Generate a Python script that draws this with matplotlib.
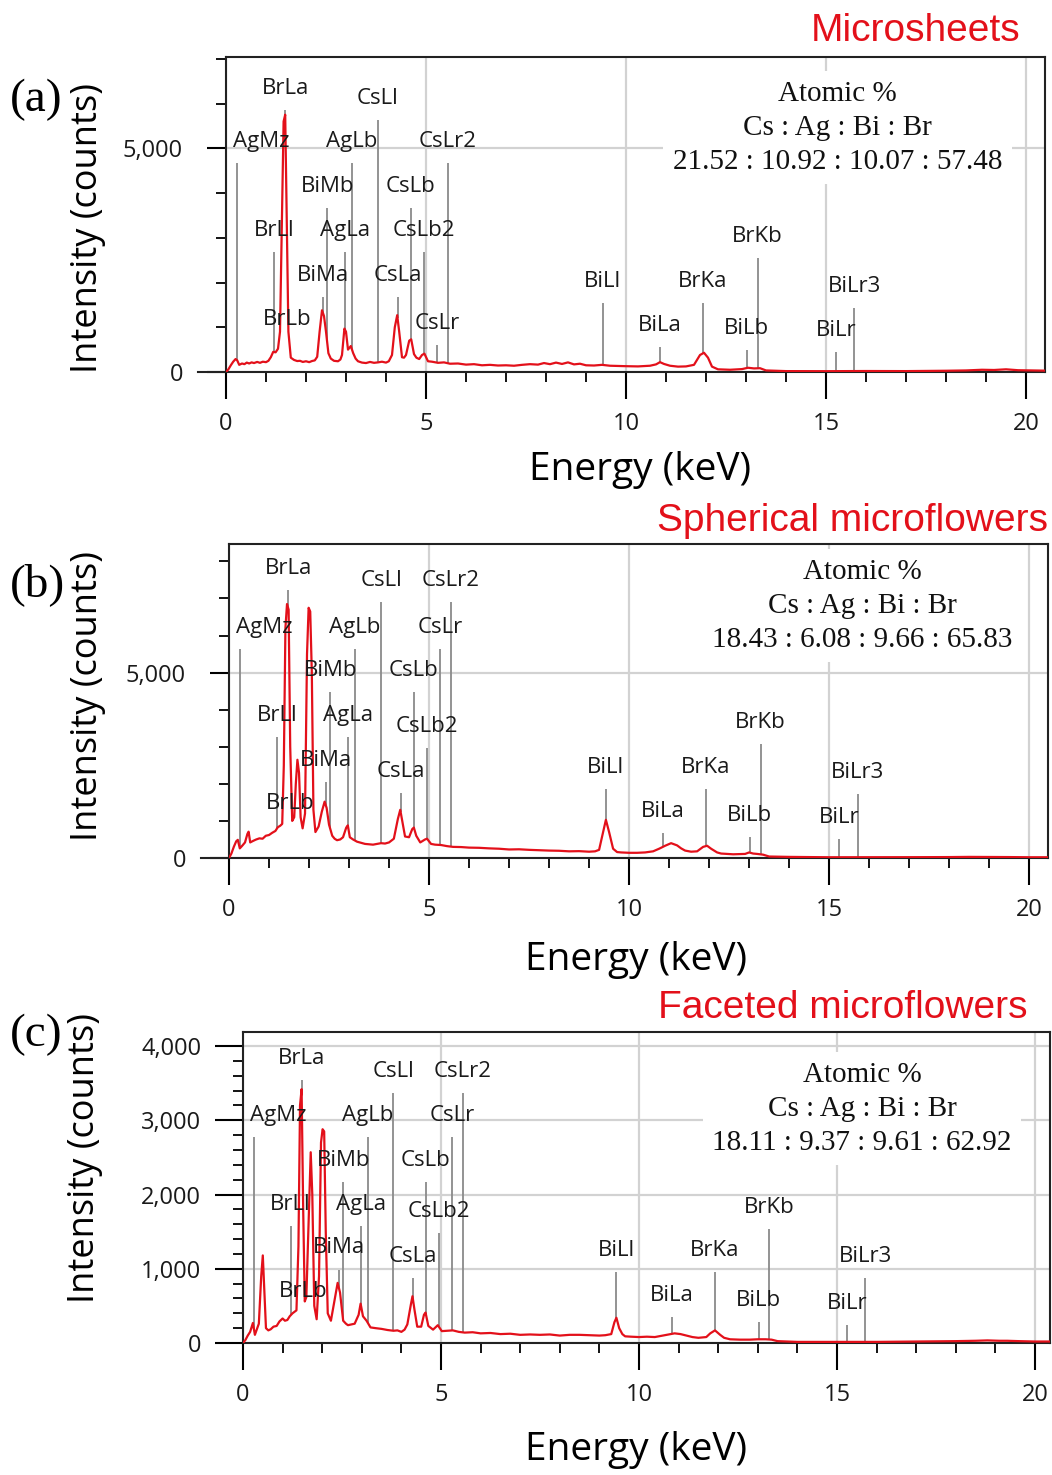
import numpy as np
import matplotlib
matplotlib.use("Agg")
import matplotlib.pyplot as plt
from matplotlib.ticker import MultipleLocator, FuncFormatter

# ---------------- data ----------------
line_names = ["AgMz", "BrLl", "BrLa", "BrLb", "BiMa", "BiMb", "AgLa", "AgLb",
              "CsLl", "CsLa", "CsLb", "CsLb2", "CsLr", "CsLr2", "BiLl", "BiLa",
              "BrKa", "BiLb", "BrKb", "BiLr", "BiLr3"]
line_energy = [0.28, 1.20, 1.48, 1.53, 2.42, 2.53, 2.98, 3.15,
               3.80, 4.29, 4.62, 4.94, 5.28, 5.55, 9.42, 10.84,
               11.92, 13.02, 13.29, 15.25, 15.71]

levels_a = [4665, 2680, 5848, 690, 1674, 3660, 2680, 4665,
            5625, 1674, 3660, 2680, 600, 4665, 1540, 560,
            1540, 490, 2545, 446, 1430]
levels_b = [5650, 3270, 7216, 890, 2054, 4486, 3270, 5650,
            6892, 1757, 4486, 2973, 5650, 6892, 1865, 676,
            1865, 568, 3081, 514, 1730]
levels_c = [2775, 1577, 3543, 400, 990, 2165, 1577, 2775,
            3363, 880, 2165, 1478, 2775, 3363, 950, 350,
            950, 285, 1532, 245, 880]

energy_a = [0.00, 0.06, 0.12, 0.18, 0.24, 0.28, 0.33, 0.40, 0.46, 0.52, 0.58, 0.64,
            0.70, 0.78, 0.85, 0.92, 1.00, 1.06, 1.12, 1.18, 1.24, 1.30, 1.35, 1.40,
            1.44, 1.48, 1.52, 1.56, 1.62, 1.70, 1.78, 1.85, 1.92, 2.00, 2.08, 2.15,
            2.22, 2.28, 2.34, 2.40, 2.45, 2.50, 2.56, 2.62, 2.70, 2.80, 2.86, 2.90,
            2.96, 3.00, 3.05, 3.12, 3.18, 3.24, 3.30, 3.40, 3.50, 3.60, 3.70, 3.80,
            3.90, 4.00, 4.07, 4.15, 4.22, 4.28, 4.33, 4.40, 4.45, 4.50, 4.58, 4.63,
            4.70, 4.76, 4.83, 4.90, 4.96, 5.05, 5.15, 5.30, 5.45, 5.60, 5.80, 6.00,
            6.20, 6.40, 6.60, 6.80, 7.00, 7.20, 7.40, 7.60, 7.80, 7.95, 8.10, 8.25,
            8.40, 8.55, 8.70, 8.85, 9.00, 9.20, 9.40, 9.60, 9.80, 10.0, 10.3, 10.6,
            10.75, 10.85, 10.95, 11.1, 11.3, 11.5, 11.7, 11.85, 11.95, 12.05, 12.15, 12.3,
            12.6, 12.9, 13.05, 13.2, 13.35, 13.5, 14.0, 15.0, 16.0, 17.0, 18.0, 18.5,
            18.9, 19.2, 19.5, 19.8, 20.1, 20.5]
counts_a = [0, 60, 150, 230, 290, 260, 160, 190, 175, 210, 190, 215,
            200, 225, 205, 230, 220, 250, 330, 450, 440, 520, 900, 3500,
            5600, 5750, 3400, 900, 320, 270, 245, 250, 225, 240, 220, 245,
            260, 340, 900, 1380, 1250, 900, 420, 300, 250, 240, 280, 380,
            970, 900, 500, 580, 420, 300, 240, 210, 200, 225, 205, 215,
            230, 210, 240, 380, 1000, 1270, 900, 330, 320, 380, 700, 730,
            400, 320, 290, 380, 410, 240, 230, 205, 215, 185, 190, 165,
            175, 150, 160, 145, 150, 140, 160, 175, 165, 200, 175, 210,
            180, 215, 170, 185, 150, 145, 160, 140, 135, 130, 125, 140,
            170, 220, 180, 140, 120, 125, 160, 380, 430, 320, 120, 60,
            50, 65, 95, 80, 85, 35, 20, 18, 22, 20, 28, 35,
            50, 45, 60, 40, 35, 30]

energy_b = [0.00, 0.06, 0.12, 0.18, 0.22, 0.27, 0.33, 0.40, 0.46, 0.49, 0.53, 0.60,
            0.68, 0.76, 0.84, 0.92, 1.00, 1.08, 1.16, 1.22, 1.28, 1.33, 1.37, 1.41,
            1.45, 1.49, 1.53, 1.58, 1.63, 1.67, 1.71, 1.75, 1.79, 1.84, 1.90, 1.95,
            1.99, 2.03, 2.07, 2.11, 2.16, 2.24, 2.32, 2.39, 2.44, 2.50, 2.58, 2.64,
            2.70, 2.78, 2.85, 2.93, 2.97, 3.02, 3.10, 3.20, 3.30, 3.40, 3.50, 3.60,
            3.70, 3.80, 3.90, 4.00, 4.12, 4.22, 4.28, 4.33, 4.40, 4.50, 4.58, 4.62,
            4.68, 4.78, 4.90, 4.95, 5.05, 5.15, 5.30, 5.45, 5.60, 5.80, 6.0, 6.25,
            6.5, 6.75, 7.0, 7.25, 7.5, 7.75, 8.0, 8.25, 8.5, 8.75, 9.0, 9.15,
            9.25, 9.35, 9.42, 9.50, 9.60, 9.7, 9.8, 10.0, 10.2, 10.4, 10.6, 10.75,
            10.9, 11.05, 11.2, 11.3, 11.4, 11.55, 11.7, 11.85, 11.95, 12.05, 12.2, 12.3,
            12.6, 12.8, 12.9, 13.0, 13.1, 13.2, 13.35, 13.5, 14.0, 15.0, 16.0, 17.0,
            18.0, 18.5, 19.0, 19.5, 20.0, 20.5]
counts_b = [0, 120, 300, 450, 490, 260, 330, 420, 650, 710, 420, 460,
            500, 530, 520, 600, 620, 680, 730, 830, 870, 920, 2500, 6200,
            6850, 6700, 3000, 1000, 1100, 2000, 2650, 2300, 1100, 800, 1200, 5500,
            6750, 6650, 5000, 1300, 700, 850, 1250, 1520, 1350, 900, 600, 520,
            480, 500, 560, 820, 880, 560, 500, 440, 410, 380, 370, 360,
            380, 400, 390, 420, 520, 1050, 1300, 1000, 580, 560, 780, 820,
            600, 420, 500, 520, 380, 360, 350, 320, 300, 295, 280, 275,
            260, 250, 230, 235, 220, 210, 200, 195, 180, 185, 170, 180,
            220, 700, 1030, 700, 250, 160, 150, 140, 140, 150, 180, 250,
            330, 400, 340, 260, 200, 170, 180, 300, 330, 250, 150, 120,
            100, 105, 110, 150, 120, 110, 90, 40, 30, 20, 20, 22,
            25, 30, 28, 25, 20, 20]

energy_c = [0.00, 0.06, 0.12, 0.18, 0.25, 0.30, 0.36, 0.40, 0.46, 0.50, 0.54, 0.58,
            0.64, 0.70, 0.77, 0.85, 0.92, 1.00, 1.06, 1.12, 1.18, 1.25, 1.30, 1.35,
            1.40, 1.44, 1.48, 1.52, 1.56, 1.60, 1.66, 1.71, 1.75, 1.80, 1.86, 1.92,
            1.97, 2.01, 2.05, 2.09, 2.14, 2.22, 2.32, 2.39, 2.45, 2.53, 2.60, 2.65,
            2.73, 2.82, 2.92, 2.97, 3.03, 3.12, 3.22, 3.35, 3.50, 3.65, 3.80, 3.90,
            4.00, 4.08, 4.15, 4.24, 4.28, 4.33, 4.40, 4.50, 4.57, 4.61, 4.68, 4.80,
            4.92, 5.02, 5.15, 5.30, 5.45, 5.60, 5.80, 6.0, 6.25, 6.5, 6.75, 7.0,
            7.25, 7.5, 7.75, 8.0, 8.25, 8.5, 8.75, 9.0, 9.15, 9.3, 9.38, 9.43,
            9.50, 9.58, 9.65, 9.8, 10.0, 10.2, 10.4, 10.55, 10.7, 10.9, 11.05, 11.2,
            11.35, 11.5, 11.7, 11.8, 11.92, 12.05, 12.15, 12.3, 12.55, 12.8, 13.0, 13.2,
            13.35, 13.5, 14.0, 15.0, 16.0, 17.0, 17.5, 18.0, 18.5, 18.8, 19.1, 19.3,
            19.6, 20.0, 20.4]
counts_c = [0, 40, 100, 150, 270, 110, 200, 260, 900, 1180, 700, 200,
            170, 185, 220, 230, 290, 330, 300, 310, 360, 400, 420, 440,
            1300, 3200, 3420, 1800, 560, 620, 1700, 2570, 2000, 500, 320, 900,
            2700, 2880, 2850, 1500, 400, 300, 600, 810, 680, 300, 260, 240,
            250, 260, 380, 530, 360, 300, 210, 200, 190, 175, 165, 170,
            150, 180, 250, 520, 630, 450, 220, 220, 380, 410, 230, 180,
            240, 160, 165, 170, 150, 140, 145, 130, 135, 120, 125, 110,
            115, 110, 115, 100, 110, 110, 105, 100, 105, 120, 280, 340,
            200, 120, 90, 85, 80, 85, 80, 95, 110, 130, 120, 100,
            80, 70, 80, 130, 170, 110, 70, 50, 45, 45, 50, 50,
            45, 25, 15, 15, 15, 20, 22, 25, 30, 35, 30, 30,
            25, 20, 20]

titles = ["Microsheets", "Spherical microflowers", "Faceted microflowers"]
panel_tags = ["(a)", "(b)", "(c)"]
ratios = ["21.52 : 10.92 : 10.07 : 57.48",
          "18.43 : 6.08 : 9.66 : 65.83",
          "18.11 : 9.37 : 9.61 : 62.92"]
x_ticks = [0, 5, 10, 15, 20]

# ---------------- layout / style ----------------
W, H = 1052, 1475
fig = plt.figure(figsize=(W / 100, H / 100), dpi=100)

RED = "#e3101a"
GRID = "#d2d2d2"
MARK = "#8a8a8a"
SANS = ["Open Sans", "DejaVu Sans"]
SERIF = ["Liberation Serif", "DejaVu Serif"]
ARIAL = ["Liberation Sans", "DejaVu Sans"]

def rect(l, r, t, b):
    return [l / W, (H - b) / H, (r - l) / W, (b - t) / H]

cfg = [
    dict(rect=rect(226, 1045, 57, 372), xmax=20.475, ymax=7040, ymaj=5000, ymin=1000,
         ymajlen=14, ypad=17, zero_ext=True,
         ylab=(-0.1685, 0.457), xlab=(0.505, -0.311), atom=(0.747, 0.776),
         title=(1020, 31), tag=100),
    dict(rect=rect(229, 1048, 544, 858), xmax=20.47, ymax=8470, ymaj=5000, ymin=1000,
         ymajlen=14, ypad=17, zero_ext=True,
         ylab=(-0.172, 0.517), xlab=(0.497, -0.324), atom=(0.773, 0.804),
         title=(1048, 521), tag=585),
    dict(rect=rect(243, 1050, 1032, 1343), xmax=20.38, ymax=4190, ymaj=1000, ymin=200,
         ymajlen=20, ypad=10, zero_ext=False,
         ylab=(-0.196, 0.595), xlab=(0.487, -0.344), atom=(0.767, 0.753),
         title=(1027, 1008), tag=1035),
]

spectra = [(energy_a, counts_a, levels_a),
           (energy_b, counts_b, levels_b),
           (energy_c, counts_c, levels_c)]

for i, (c, (ex, cy, lev)) in enumerate(zip(cfg, spectra)):
    ax = fig.add_axes(c["rect"])
    ax.set_xlim(0, c["xmax"])
    ax.set_ylim(0, c["ymax"])

    # grid
    ax.set_axisbelow(True)
    ax.grid(True, which="major", color=GRID, lw=1.6)

    # marker lines + labels
    for name, e, lv in zip(line_names, line_energy, lev):
        s = float(np.interp(e, ex, cy))
        if lv > s:
            ax.vlines(e, s, lv, color=MARK, lw=1.3, zorder=2)
        if e < 0.6:
            ax.annotate(name, (e - 0.1, lv), xytext=(0, 15.5), textcoords="offset points",
                        ha="left", va="center", fontsize=16, family=SANS, color="#1a1a1a", zorder=4)
        else:
            ax.annotate(name, (e, lv), xytext=(0, 15.5), textcoords="offset points",
                        ha="center", va="center", fontsize=16, family=SANS, color="#1a1a1a", zorder=4)

    # spectrum
    ax.plot(ex, cy, color=RED, lw=1.6, zorder=3)

    # ticks
    ax.set_xticks(x_ticks)
    ax.xaxis.set_minor_locator(MultipleLocator(1))
    ax.yaxis.set_major_locator(MultipleLocator(c["ymaj"]))
    ax.yaxis.set_minor_locator(MultipleLocator(c["ymin"]))
    ax.yaxis.set_major_formatter(FuncFormatter(lambda v, p: f"{int(round(v)):,}"))
    ax.tick_params(axis="x", which="major", direction="out", length=19.5, width=1.5,
                   pad=9, labelsize=17)
    ax.tick_params(axis="x", which="minor", direction="out", length=7, width=1.3)
    ax.tick_params(axis="y", which="major", direction="out", length=c["ymajlen"], width=1.5,
                   pad=c["ypad"], labelsize=17)
    ax.tick_params(axis="y", which="minor", direction="out", length=7, width=1.3)
    for lab in ax.get_xticklabels() + ax.get_yticklabels():
        lab.set_family(SANS)
        lab.set_color("#1a1a1a")
    for sp in ax.spines.values():
        sp.set_linewidth(1.5)
        sp.set_color("#222222")
    if c["zero_ext"]:
        ax.axhline(0, xmin=-0.034, xmax=0, color="#222222", lw=1.5, clip_on=False)

    # axis labels
    ax.set_xlabel("Energy (keV)", fontsize=28, family=SANS)
    ax.xaxis.set_label_coords(*c["xlab"])
    ax.xaxis.label.set_va("center")
    ax.set_ylabel("Intensity (counts)", fontsize=26, family=SANS)
    ax.yaxis.set_label_coords(*c["ylab"])
    ax.yaxis.label.set_va("center")

    # atomic composition box
    ax.text(c["atom"][0], c["atom"][1],
            "Atomic %\nCs : Ag : Bi : Br\n" + ratios[i],
            transform=ax.transAxes, ha="center", va="center", multialignment="center",
            fontsize=21, family=SERIF, linespacing=1.4, color="#111111", zorder=5,
            bbox=dict(facecolor="white", edgecolor="none", pad=7))

    # titles and panel tags
    fig.text(c["title"][0] / W, 1 - c["title"][1] / H, titles[i], ha="right", va="center",
             fontsize=28, family=ARIAL, color=RED)
    fig.text(10 / W, 1 - c["tag"] / H, panel_tags[i], ha="left", va="center",
             fontsize=34, family=SERIF)

fig.savefig("out.png", dpi=100, facecolor="white")
